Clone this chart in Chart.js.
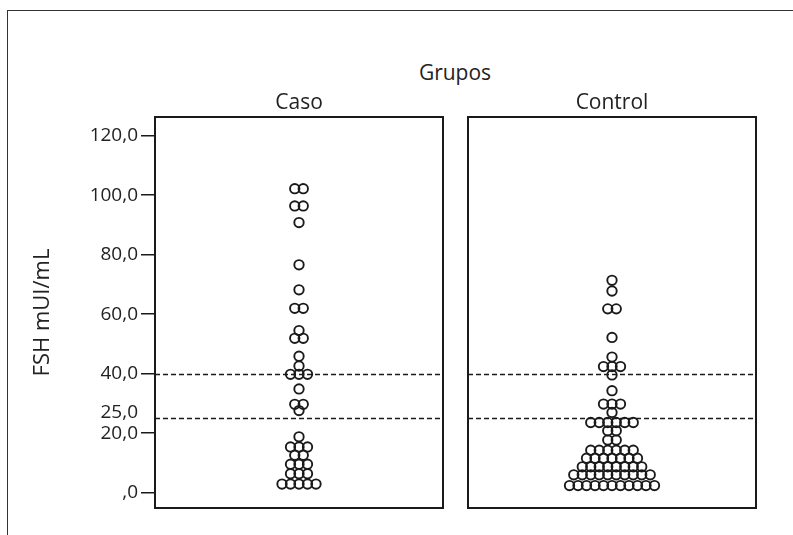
<!DOCTYPE html>
<html><head><meta charset="utf-8">
<script src="https://cdn.jsdelivr.net/npm/chart.js@4/dist/chart.umd.min.js"></script>
<style>
html,body{margin:0;padding:0;background:#fff;width:793px;height:535px;overflow:hidden;}
#frame{position:absolute;left:7px;top:10px;width:800px;height:540px;border-top:1.5px solid #333;border-left:1.5px solid #333;}
#wrapL{position:absolute;left:0;top:0;width:450px;height:535px;}
#wrapR{position:absolute;left:450px;top:0;width:343px;height:535px;}
#grupos{position:absolute;left:355px;width:200px;top:59px;text-align:center;font:21px "Open Sans",sans-serif;line-height:26px;color:#222;}
</style></head>
<body>
<div id="frame"></div>
<div id="grupos">Grupos</div>
<div id="wrapL"><canvas id="cL" width="450" height="535"></canvas></div>
<div id="wrapR"><canvas id="cR" width="343" height="535"></canvas></div>
<script>
const groups = ['Caso', 'Control'];
const yTitle = 'FSH mUI/mL';
const tickValues = [0, 20, 25, 40, 60, 80, 100, 120];
const markValue = 25;   // labelled but without tick mark
const refLines = [25, 40];
const casoValues = [102.2,102.2, 96.4,96.4, 90.8, 76.6, 68.2, 62.0,62.0, 54.5, 51.9,51.9, 45.9, 42.6,
  39.8,39.8,39.8, 34.9, 29.7,29.7, 27.6, 18.8, 15.4,15.4,15.4, 12.6,12.6, 9.6,9.6,9.6, 6.4,6.4,6.4,
  2.9,2.9,2.9,2.9,2.9];
const controlValues = [71.4, 67.8, 61.8,61.8, 52.2, 45.6, 42.4,42.4,42.4, 39.6, 34.3, 29.8,29.8,29.8, 27.0,
  23.6,23.6,23.6,23.6,23.6,23.6, 20.8,20.8, 17.7,17.7,
  14.3,14.3,14.3,14.3,14.3,14.3,
  11.6,11.6,11.6,11.6,11.6,11.6,11.6,
  8.7,8.7,8.7,8.7,8.7,8.7,8.7,8.7,
  6.0,6.0,6.0,6.0,6.0,6.0,6.0,6.0,6.0,6.0,
  2.4,2.4,2.4,2.4,2.4,2.4,2.4,2.4,2.4,2.4,2.4];

const Y_MIN = -5.14, Y_MAX = 126.3;
const DOT_STEP = 0.059;
const FONT = '"Open Sans", sans-serif';
const INK = '#1a1a1a';

function dotPositions(values) {
  const counts = new Map();
  values.forEach(v => counts.set(v, (counts.get(v) || 0) + 1));
  const pts = [];
  counts.forEach((n, v) => {
    for (let i = 0; i < n; i++) pts.push({x: (i - (n - 1) / 2) * DOT_STEP, y: v});
  });
  return pts;
}

const fmt = v => v === 0 ? ',0' : v.toFixed(1).replace('.', ',');

const panelPlugin = {
  id: 'panel',
  afterDatasetsDraw(chart) {
    const {ctx, chartArea: a, scales: {y}} = chart;
    ctx.save();
    ctx.strokeStyle = INK;
    ctx.lineWidth = 1.6;
    ctx.setLineDash([5, 3]);
    refLines.forEach(v => {
      const py = Math.round(y.getPixelForValue(v)) + 0.5;
      ctx.beginPath(); ctx.moveTo(a.left, py); ctx.lineTo(a.right, py); ctx.stroke();
    });
    ctx.setLineDash([]);
    ctx.lineWidth = 2;
    ctx.strokeRect(a.left, a.top, a.right - a.left, a.bottom - a.top);
    ctx.restore();
  }
};

function makeChart(id, title, values, showY, padding) {
  const yScale = {
    display: showY,
    min: Y_MIN, max: Y_MAX,
    afterBuildTicks: s => { s.ticks = tickValues.map(v => ({value: v})); },
    ticks: {
      autoSkip: false, padding: 3, color: '#222',
      font: c => (c.tick && c.tick.value === markValue)
        ? {family: FONT, size: 19, lineHeight: 0.62}
        : {family: FONT, size: 19},
      callback: v => v === markValue ? [fmt(v), ''] : fmt(v)
    },
    grid: {
      drawOnChartArea: false, drawTicks: true, tickLength: 14, lineWidth: 1.5,
      color: c => (c.tick && c.tick.value === markValue) ? 'rgba(0,0,0,0)' : INK
    },
    border: {display: true, color: INK, width: 2},
    title: {display: true, text: yTitle, color: '#222', font: {family: FONT, size: 22}, padding: {top: 30, bottom: 0}}
  };
  if (showY) yScale.afterFit = s => { s.width = 155; };
  return new Chart(document.getElementById(id), {
    type: 'scatter',
    data: {datasets: [{
      data: dotPositions(values),
      pointRadius: 4.7,
      pointHoverRadius: 4.7,
      pointBorderWidth: 1.9,
      pointBorderColor: INK,
      pointBackgroundColor: 'rgba(0,0,0,0)'
    }]},
    options: {
      responsive: false,
      devicePixelRatio: 1,
      animation: false,
      layout: {padding},
      plugins: {legend: {display: false}, tooltip: {enabled: false}},
      scales: {
        x: {
          type: 'linear', min: -1, max: 1, position: 'top',
          grid: {display: false}, border: {display: false},
          ticks: {display: false},
          title: {display: true, text: title, color: '#222', font: {family: FONT, size: 21}, padding: {top: 0, bottom: 0}},
          afterFit: s => { s.height = 27; }
        },
        y: yScale
      }
    },
    plugins: [panelPlugin]
  });
}

makeChart('cL', groups[0], casoValues, true, {top: 90, right: 7, bottom: 27, left: 0});
makeChart('cR', groups[1], controlValues, false, {top: 90, right: 37, bottom: 27, left: 18});
</script>
</body></html>
